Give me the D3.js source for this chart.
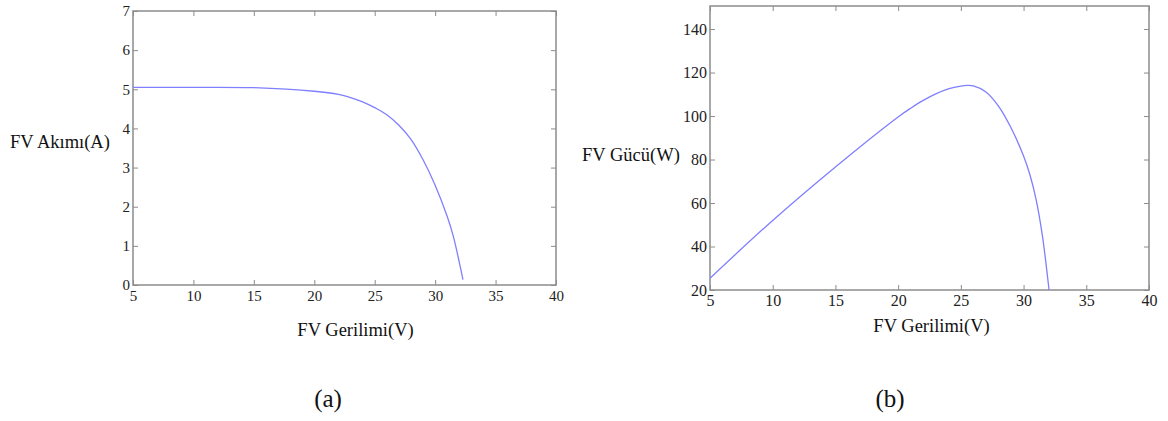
<!DOCTYPE html>
<html>
<head>
<meta charset="utf-8">
<script src="https://cdn.jsdelivr.net/npm/d3@7"></script>
<style>
  body { margin: 0; background: #fff; }
  svg { display: block; }
  text { font-family: "Liberation Serif", serif !important; }
  .axis path, .axis line { stroke: #8c8c8c; }
  .axis text { fill: #222; }
</style>
</head>
<body>
<div id="chart"></div>
<script>
// voltage samples (V) for the I-V curve
const voltsA = [5, 10, 15, 20, 22, 23, 24, 25, 26, 27, 28, 29, 30, 31, 31.5, 32, 32.3]
// current (A)
const currentA = [5.05, 5.05, 5.04, 4.95, 4.87, 4.79, 4.68, 4.53, 4.35, 4.08, 3.72, 3.20, 2.55, 1.75, 1.25, 0.58, 0.14]

// voltage samples (V) for the P-V curve
const voltsB = [5, 10, 15, 20, 21, 22, 23, 24, 25, 25.5, 26, 27, 28, 29, 30, 30.5, 31, 31.5, 32.03]
// power (W)
const powerB = [25.4, 52, 76.6, 99.6, 103.6, 107.2, 110.2, 112.5, 113.8, 114.1, 113.9, 111.1, 104.6, 94.6, 81.6, 73.1, 61.6, 45, 20]

const xTicks = [5, 10, 15, 20, 25, 30, 35, 40]
const yTicksA = [0, 1, 2, 3, 4, 5, 6, 7]
const yTicksB = [20, 40, 60, 80, 100, 120, 140]

const serif = "Liberation Serif, serif"
const W = 1168, H = 421
const svg = d3.select("#chart").append("svg")
  .attr("width", W).attr("height", H)
  .attr("font-family", serif)

function panel(opts) {
  let g = svg.append("g")
  let x = d3.scaleLinear().domain([5, 40]).range([opts.left, opts.right])
  let y = d3.scaleLinear().domain(opts.yDomain).range([opts.bottom, opts.top])
  let tick = 5
  let fmt = d3.format("d")

  // box
  g.append("rect")
    .attr("x", opts.left).attr("y", opts.top)
    .attr("width", opts.right - opts.left).attr("height", opts.bottom - opts.top)
    .attr("fill", "none").attr("stroke", "#8c8c8c").attr("stroke-width", 1.5)

  // AXES (ticks pointing inward, on all four sides)
  g.append("g").attr("class", "axis")
    .attr("transform", "translate(0," + opts.bottom + ")")
    .call(d3.axisBottom(x).tickValues(xTicks).tickFormat(fmt).tickSizeInner(-tick).tickSizeOuter(0).tickPadding(5))
    .attr("font-family", serif).attr("font-size", opts.tickFont)
    .call(s => s.select(".domain").remove())

  g.append("g").attr("class", "axis")
    .attr("transform", "translate(0," + opts.top + ")")
    .call(d3.axisTop(x).tickValues(xTicks).tickSizeInner(-tick).tickSizeOuter(0).tickFormat(""))
    .call(s => s.select(".domain").remove())

  g.append("g").attr("class", "axis")
    .attr("transform", "translate(" + opts.left + ",0)")
    .call(d3.axisLeft(y).tickValues(opts.yTicks).tickFormat(fmt).tickSizeInner(-tick).tickSizeOuter(0).tickPadding(3))
    .attr("font-family", serif).attr("font-size", opts.tickFont)
    .call(s => s.select(".domain").remove())

  g.append("g").attr("class", "axis")
    .attr("transform", "translate(" + opts.right + ",0)")
    .call(d3.axisRight(y).tickValues(opts.yTicks).tickSizeInner(-tick).tickSizeOuter(0).tickFormat(""))
    .call(s => s.select(".domain").remove())

  // curve
  let pts = opts.xs.map((v, i) => [v, opts.ys[i]])
  g.append("path")
    .datum(pts)
    .attr("fill", "none")
    .attr("stroke", "#7f7fff")
    .attr("stroke-width", 1.3)
    .attr("d", d3.line().x(d => x(d[0])).y(d => y(d[1])).curve(d3.curveCatmullRom.alpha(0.5)))

  // labels
  g.append("text").attr("x", opts.yLabelX).attr("y", opts.yLabelY)
    .attr("font-size", 18.5).attr("fill", "#111").text(opts.yLabel)
  g.append("text").attr("x", (opts.left + opts.right) / 2 + opts.xLabelDx).attr("y", opts.xLabelY)
    .attr("text-anchor", "middle")
    .attr("font-size", 18.5).attr("fill", "#111").text("FV Gerilimi(V)")
  g.append("text").attr("x", opts.capX).attr("y", 407)
    .attr("text-anchor", "middle")
    .attr("font-size", 25).attr("fill", "#111").text(opts.caption)
}

panel({
  left: 133, right: 556, top: 11, bottom: 285,
  yDomain: [0, 7], yTicks: yTicksA, tickFont: 15,
  xs: voltsA, ys: currentA,
  yLabel: "FV Akımı(A)", yLabelX: 10, yLabelY: 148,
  xLabelDx: 11, xLabelY: 336,
  caption: "(a)", capX: 328
})

panel({
  left: 710, right: 1149, top: 6, bottom: 290,
  yDomain: [20, 150.6], yTicks: yTicksB, tickFont: 16,
  xs: voltsB, ys: powerB,
  yLabel: "FV Gücü(W)", yLabelX: 582, yLabelY: 161,
  xLabelDx: 2, xLabelY: 332,
  caption: "(b)", capX: 890
})
</script>
</body>
</html>
